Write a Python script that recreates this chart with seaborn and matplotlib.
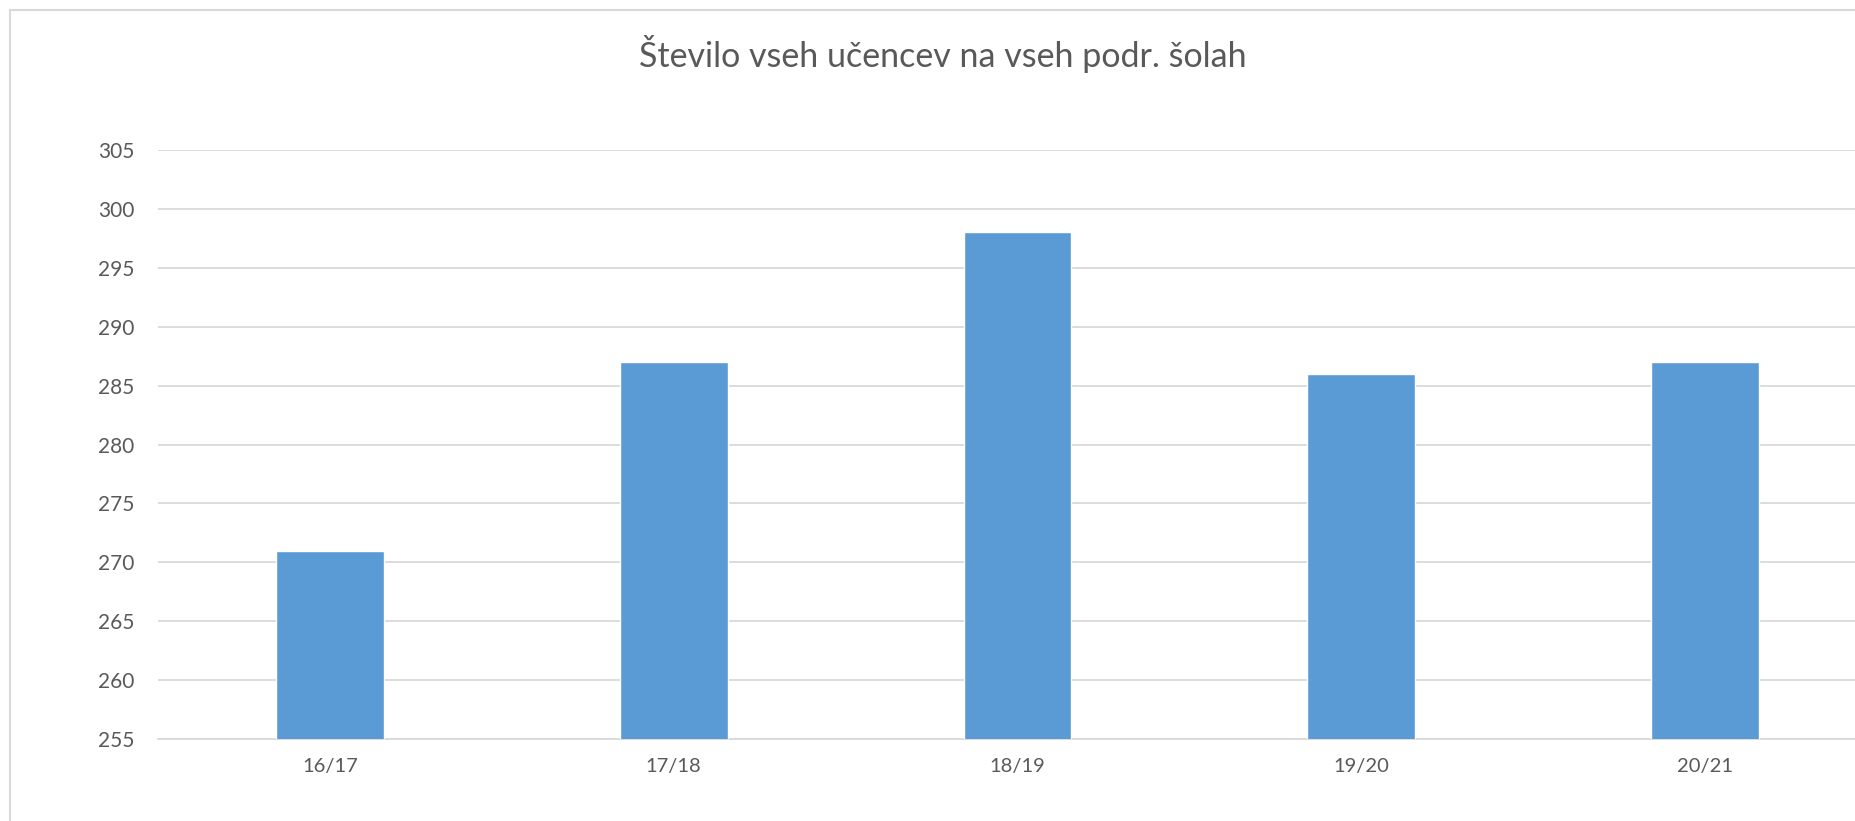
import pandas as pd
import matplotlib.pyplot as plt
import seaborn as sns

# Data
seasons = ["16/17", "17/18", "18/19", "19/20", "20/21"]
pupils = [271, 287, 298, 286, 287]
y_ticks = [255, 260, 265, 270, 275, 280, 285, 290, 295, 300, 305]

df = pd.DataFrame({"season": seasons, "pupils": pupils})

sns.set_theme(style="white")
plt.rcParams['font.family'] = ['Lato', 'DejaVu Sans']

text_col = '#595959'
grid_col = '#D9D9D9'

fig = plt.figure(figsize=(18.56, 8.21), dpi=100)
# chart is cropped on the right in the reference, so the axes runs past the edge
ax = fig.add_axes([158 / 1856, 82 / 821, (1877 - 158) / 1856, 589 / 821])

sns.barplot(data=df, x='season', y='pupils', color='#5B9BD5', saturation=1,
            width=0.313, ax=ax, zorder=3)

ax.set_ylim(255, 305)
ax.set_yticks(y_ticks)
ax.yaxis.grid(True, color=grid_col, linewidth=1.3, zorder=0)
ax.set_axisbelow(True)
for side in ['top', 'right', 'left']:
    ax.spines[side].set_visible(False)
ax.spines['bottom'].set_color(grid_col)
ax.spines['bottom'].set_linewidth(1.3)
ax.set_xlabel('')
ax.set_ylabel('')
ax.tick_params(axis='y', length=0, pad=17, labelsize=15, labelcolor=text_col)
ax.tick_params(axis='x', length=0, pad=14, labelsize=14.5, labelcolor=text_col)

fig.text(943 / 1856, 1 - 54 / 821, 'Število vseh učencev na vseh podr. šolah',
         ha='center', va='center', fontsize=24.5, color=text_col)

# light chart-area border
fig.add_artist(plt.Line2D([10 / 1856, 10 / 1856], [0, 1 - 10 / 821],
                          color=grid_col, linewidth=1.5, transform=fig.transFigure))
fig.add_artist(plt.Line2D([10 / 1856, 1], [1 - 10 / 821, 1 - 10 / 821],
                          color=grid_col, linewidth=1.5, transform=fig.transFigure))

fig.savefig('out.png', dpi=100)
